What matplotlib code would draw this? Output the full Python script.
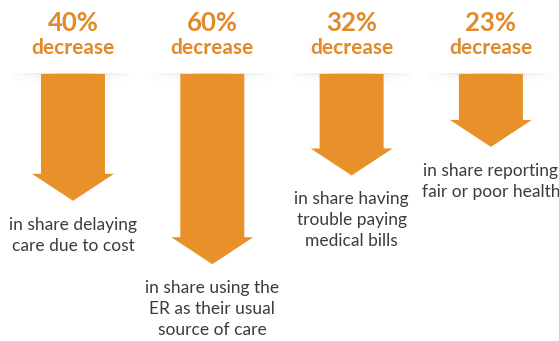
import matplotlib.pyplot as plt
import numpy as np
from matplotlib.patches import Polygon

ORANGE = "#e8912a"
HEAD_TXT = "#e08a2b"
TEXT = "#3c3c3c"

pct = [40, 60, 32, 23]
headers = ["40%", "60%", "32%", "23%"]
labels = [
    "in share delaying\ncare due to cost",
    "in share using the\nER as their usual\nsource of care",
    "in share having\ntrouble paying\nmedical bills",
    "in share reporting\nfair or poor health",
]

W, H = 559, 341
TOP = 74          # shaft top (px)
SCALE = 3.17      # px per percentage point
SHAFT = 64
HEAD_W = 82
HEAD_H = 27
X0, DX = 73, 139.3


def arrow(ax, cx, length):
    tip = TOP + length
    neck = tip - HEAD_H
    pts = [
        (cx - SHAFT / 2, TOP), (cx + SHAFT / 2, TOP), (cx + SHAFT / 2, neck),
        (cx + HEAD_W / 2, neck), (cx, tip), (cx - HEAD_W / 2, neck),
        (cx - SHAFT / 2, neck),
    ]
    ax.add_patch(Polygon(pts, closed=True, facecolor=ORANGE, edgecolor="none", zorder=3))


def shadow(ax, cx):
    xs = np.linspace(-62, 62, 160)
    ys = np.linspace(0, 12, 40)
    gx, gy = np.meshgrid(xs, ys)
    a = 0.28 * np.exp(-(gx / 40) ** 2) * np.exp(-gy / 3.5)
    img = np.zeros(gx.shape + (4,))
    img[..., :3] = 0.35
    img[..., 3] = a
    ax.imshow(img, extent=(cx - 62, cx + 62, TOP + 12, TOP - 1), zorder=2,
              interpolation="bilinear", aspect="auto")


fig = plt.figure(figsize=(W / 100, H / 100), dpi=100)
ax = fig.add_axes([0, 0, 1, 1])
ax.set_xlim(0, W)
ax.set_ylim(H, 0)
ax.axis("off")

for i, (p, h, lab) in enumerate(zip(pct, headers, labels)):
    cx = X0 + i * DX
    length = p * SCALE
    shadow(ax, cx)
    arrow(ax, cx, length)
    ax.text(cx, 23, h, ha="center", va="center", fontsize=18.5, fontweight="bold",
            color=HEAD_TXT, family="Lato")
    ax.text(cx, 48, "decrease", ha="center", va="center", fontsize=15, fontweight="bold",
            color=HEAD_TXT, family="Lato")
    ax.text(cx, TOP + length + 16, lab, ha="center", va="top", fontsize=12.5,
            color=TEXT, family="Lato", linespacing=1.38)

ax.set_xlim(0, W)
ax.set_ylim(H, 0)
fig.savefig("out.png", dpi=100)
